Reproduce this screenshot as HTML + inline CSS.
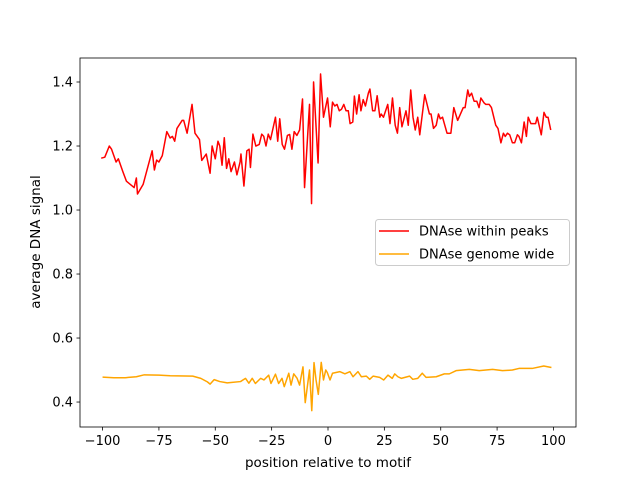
<!DOCTYPE html>
<html><head><meta charset="utf-8"><style>
body{margin:0;background:#fff}
svg text{font-family:"DejaVu Sans","Liberation Sans",sans-serif;fill:#000}
</style></head><body>
<svg id="c" width="640" height="480" xmlns="http://www.w3.org/2000/svg"></svg>
<script>
const xTicks=[-100,-75,-50,-25,0,25,50,75,100];
const yTicks=[0.4,0.6,0.8,1.0,1.2,1.4];
const yTickLabels=["0.4","0.6","0.8","1.0","1.2","1.4"];
const peaksPos=[-100.6,-99,-97,-96,-94,-93,-91,-89.4,-86,-85,-84.5,-82,-78,-77,-76,-75,-73.5,-71.5,-70,-69,-68,-67,-64.7,-64,-62.5,-60.3,-59,-57,-56,-54,-52.3,-51.4,-50,-48.8,-48,-47,-46,-45,-44,-43,-41.5,-40.4,-39,-38.6,-37.3,-36,-35,-34.4,-33.3,-32,-30.5,-29.4,-28.5,-27.5,-26.5,-25.5,-23.3,-22.3,-21.4,-20.3,-19.3,-18,-17,-16,-15,-13.8,-12.6,-11.3,-10.4,-8.2,-7.3,-6.4,-4.4,-3.3,-2,-0.2,1,2,3,4,5,6,7,8,9,9.8,11,11.7,12.7,13.8,14.6,15.6,16.6,17.9,18.6,19.8,20.8,21.8,23,23.6,24.6,26.5,27.5,28.6,29.8,30.8,31.8,32.8,34.6,35.6,36.7,37.7,38.7,39.8,40.7,42.9,45,45.7,46.8,48,49,49.8,50.8,52.8,54.5,55.8,57.5,60,60.8,62,62.7,63.7,64.8,66,67,67.8,69.2,70,71.5,72.5,74.4,75.4,76.7,77.8,78.6,79.6,80.6,81.8,82.8,84,84.7,85.8,87,88,88.8,90,92.1,92.8,94.6,95.8,96.8,97.6,98.8];
const peaksVal=[1.162,1.165,1.20,1.19,1.15,1.16,1.12,1.09,1.07,1.10,1.05,1.08,1.185,1.125,1.156,1.15,1.17,1.245,1.225,1.23,1.215,1.255,1.28,1.28,1.24,1.33,1.24,1.22,1.155,1.175,1.115,1.20,1.16,1.215,1.20,1.14,1.226,1.13,1.16,1.12,1.15,1.11,1.15,1.175,1.075,1.185,1.19,1.133,1.237,1.20,1.205,1.237,1.23,1.20,1.237,1.22,1.29,1.215,1.285,1.205,1.19,1.233,1.236,1.19,1.245,1.233,1.25,1.347,1.07,1.33,1.02,1.40,1.147,1.425,1.29,1.35,1.26,1.337,1.325,1.33,1.31,1.315,1.33,1.31,1.31,1.27,1.275,1.356,1.30,1.36,1.31,1.345,1.325,1.365,1.378,1.31,1.31,1.357,1.29,1.30,1.29,1.33,1.27,1.35,1.265,1.24,1.32,1.26,1.31,1.265,1.375,1.29,1.25,1.29,1.235,1.36,1.30,1.30,1.255,1.265,1.30,1.285,1.29,1.24,1.24,1.32,1.28,1.32,1.32,1.375,1.355,1.365,1.34,1.34,1.32,1.35,1.335,1.33,1.33,1.32,1.265,1.255,1.21,1.24,1.23,1.24,1.235,1.21,1.21,1.235,1.23,1.21,1.275,1.23,1.29,1.27,1.27,1.29,1.235,1.305,1.29,1.29,1.25];
const widePos=[-100,-95,-90,-85,-81.5,-75,-70,-60,-56.4,-53.5,-52.3,-50.5,-48,-44.7,-38.8,-36.6,-35.1,-33.6,-32.2,-29.9,-28.4,-26.3,-25.3,-23.3,-21.9,-20.4,-19.4,-17.4,-16.4,-15.2,-13.7,-12.6,-11.1,-10.1,-8.2,-7.2,-6.2,-5.3,-4.3,-3,-2,-1,-0.3,0.9,2,5.3,7.5,9.7,11.1,13.3,14.8,17,18.5,20,22.9,24.7,26.6,28.5,29.6,31,32.5,36.2,37.6,39.8,41.8,43.5,48,51.6,53.8,56.8,62.7,67.1,73,77.4,81.8,84.7,90.6,95.7,99.1];
const wideVal=[0.478,0.476,0.476,0.479,0.485,0.484,0.482,0.481,0.474,0.463,0.456,0.47,0.464,0.460,0.464,0.474,0.459,0.474,0.458,0.474,0.469,0.484,0.458,0.487,0.458,0.474,0.448,0.490,0.453,0.488,0.474,0.453,0.510,0.398,0.500,0.373,0.523,0.469,0.424,0.524,0.469,0.500,0.492,0.469,0.490,0.495,0.488,0.495,0.479,0.495,0.479,0.481,0.471,0.481,0.477,0.469,0.484,0.474,0.488,0.479,0.474,0.481,0.471,0.474,0.490,0.477,0.479,0.488,0.488,0.498,0.502,0.498,0.502,0.498,0.500,0.505,0.505,0.5125,0.508];
const NS='http://www.w3.org/2000/svg';
const svg=document.getElementById('c');
const L=80,R=576,T=58,B=427;
const X=v=>L+(v+110)/220*(R-L);
const Y=v=>B-(v-0.322)/(1.475-0.322)*(B-T);
function mk(tag,at,parent){const e=document.createElementNS(NS,tag);for(const k in at)e.setAttribute(k,at[k]);(parent||svg).appendChild(e);return e;}
function line(xs,ys,color,name){
  const d=xs.map((x,i)=>(i?'L':'M')+X(x).toFixed(2)+','+Y(ys[i]).toFixed(2)).join('');
  const p=mk('path',{d:d,fill:'none',stroke:color,'stroke-width':1.5,'stroke-linejoin':'round'});
  
  
}
line(peaksPos,peaksVal,'#ff0000','series-dnase-within-peaks');
line(widePos,wideVal,'#ffa500','series-dnase-genome-wide');
const frame=mk('rect',{x:L,y:T,width:R-L,height:B-T,fill:'none',stroke:'#000','stroke-width':0.8});


xTicks.forEach(t=>{
  const tk=mk('line',{x1:X(t),x2:X(t),y1:B,y2:B+3.5,stroke:'#000','stroke-width':0.8});
  
  
  const tx=mk('text',{x:X(t),y:B+18,'text-anchor':'middle','font-size':'13'});
  tx.textContent=(t<0?'\u2212'+(-t):t);
  
  
});
yTicks.forEach((t,i)=>{
  const tk=mk('line',{x1:L-3.5,x2:L,y1:Y(t),y2:Y(t),stroke:'#000','stroke-width':0.8});
  
  
  const tx=mk('text',{x:L-7,y:Y(t)+4.5,'text-anchor':'end','font-size':'13'});
  tx.textContent=yTickLabels[i];
  
  
});
const xl=mk('text',{x:(L+R)/2,y:467,'text-anchor':'middle','font-size':'13.5'});
xl.textContent='position relative to motif';


const yl=mk('text',{x:0,y:0,'text-anchor':'middle','font-size':'13.5',transform:'translate(40,242) rotate(-90)'});
yl.textContent='average DNA signal';


const lg=mk('g',{});


mk('rect',{x:375.5,y:219.5,width:194,height:46,rx:3,fill:'#fff','fill-opacity':0.8,stroke:'#ccc'},lg);
[['DNAse within peaks','#ff0000',231],['DNAse genome wide','#ffa500',254]].forEach(([n,c,y])=>{
  const g=mk('g',{},lg);
  
  
  mk('line',{x1:379,x2:409,y1:y,y2:y,stroke:c,'stroke-width':1.5},g);
  const t=mk('text',{x:419,y:y+4.5,'font-size':'13'},g);
  t.textContent=n;
});
</script>
</body></html>
